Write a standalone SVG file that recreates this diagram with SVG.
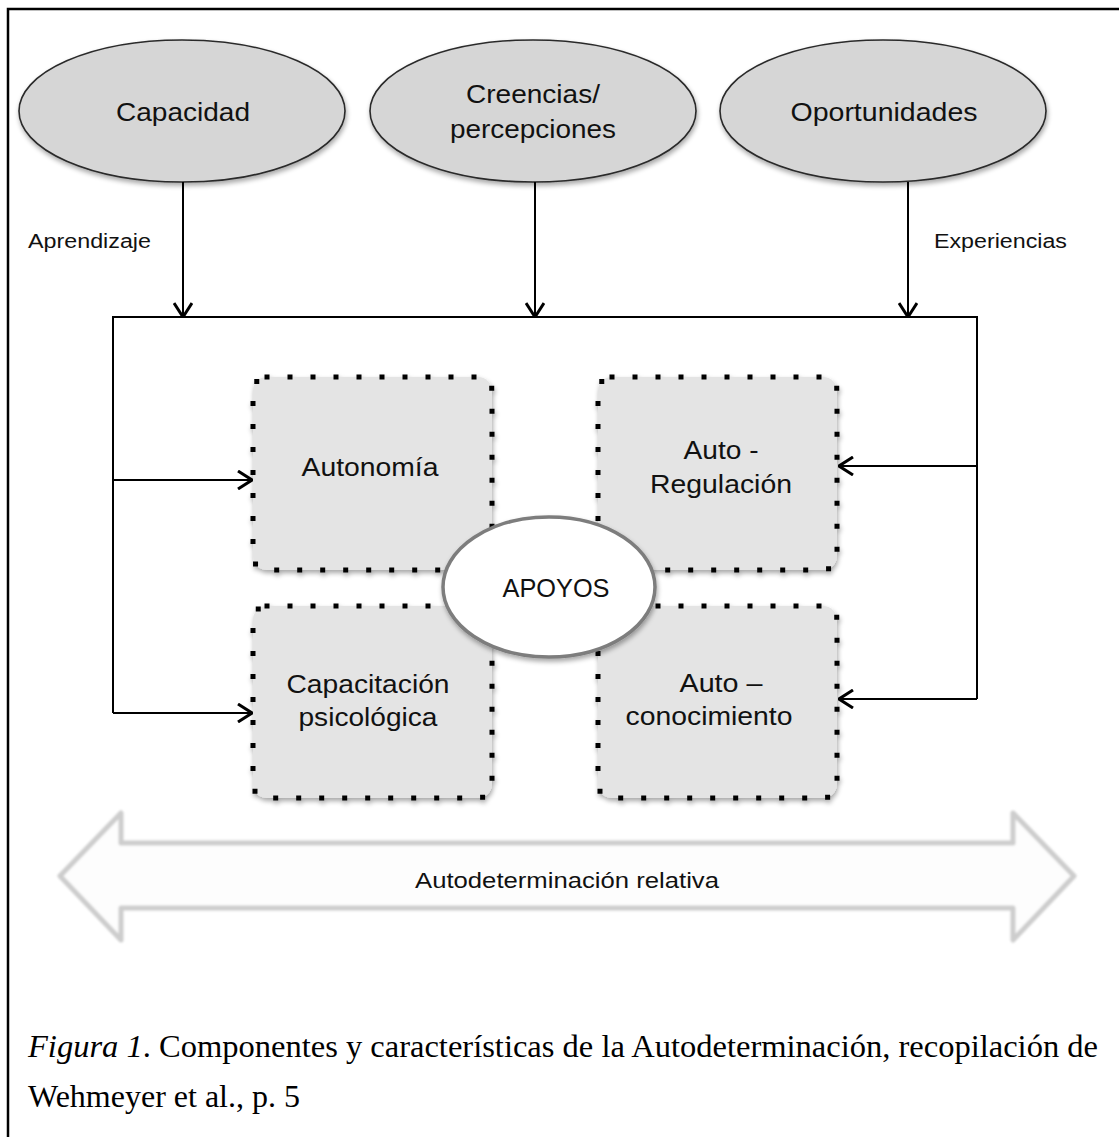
<svg xmlns="http://www.w3.org/2000/svg" width="1119" height="1137" viewBox="0 0 1119 1137">
  <defs>
    <style>
      .lbl { font-family: "Liberation Sans", Arial, Helvetica, sans-serif; fill: #111; text-anchor: middle; }
      .big { font-size: 26px; }
      .small { font-size: 20px; text-anchor: start; }
      .oval { fill: #d6d6d6; stroke: #2a2a2a; stroke-width: 1.6; }
      .box { fill: #e4e4e4; stroke: #000; stroke-width: 5; stroke-dasharray: 0 23; stroke-linecap: square; }
      .conn { fill: none; stroke: #000; stroke-width: 2; }
      .cap { font-family: "Liberation Serif", "Times New Roman", serif; font-size: 32px; fill: #000; }
    </style>
    <filter id="shadow" x="-10%" y="-10%" width="125%" height="130%">
      <feGaussianBlur in="SourceAlpha" stdDeviation="2.5"/>
      <feOffset dx="1" dy="3" result="b"/>
      <feComponentTransfer><feFuncA type="linear" slope="0.35"/></feComponentTransfer>
      <feMerge><feMergeNode/><feMergeNode in="SourceGraphic"/></feMerge>
    </filter>
    <filter id="soft" x="-5%" y="-20%" width="110%" height="140%">
      <feGaussianBlur stdDeviation="1.2"/>
    </filter>
    <marker id="arr" viewBox="0 0 16 20" refX="15" refY="10" markerWidth="16" markerHeight="20" markerUnits="userSpaceOnUse" orient="auto">
      <path d="M1,1 L15,10 L1,19" fill="none" stroke="#000" stroke-width="3"/>
    </marker>
  </defs>

  <rect width="1119" height="1137" fill="#ffffff"/>

  <!-- page frame -->
  <path d="M8,1137 V9 H1119" fill="none" stroke="#000" stroke-width="2.5"/>

  <!-- top ellipses -->
  <g id="capacidad">
    <ellipse class="oval" cx="182" cy="111" rx="163" ry="71" filter="url(#shadow)"/>
    <text class="lbl big" x="183" y="121" textLength="134" lengthAdjust="spacingAndGlyphs">Capacidad</text>
  </g>
  <g id="creencias">
    <ellipse class="oval" cx="533" cy="111" rx="163" ry="71" filter="url(#shadow)"/>
    <text class="lbl big" x="533" y="103" textLength="134" lengthAdjust="spacingAndGlyphs">Creencias/</text>
    <text class="lbl big" x="533" y="138" textLength="166" lengthAdjust="spacingAndGlyphs">percepciones</text>
  </g>
  <g id="oportunidades">
    <ellipse class="oval" cx="883" cy="111" rx="163" ry="71" filter="url(#shadow)"/>
    <text class="lbl big" x="884" y="121" textLength="187" lengthAdjust="spacingAndGlyphs">Oportunidades</text>
  </g>

  <!-- inner boxes -->
  <g id="autonomia">
    <rect class="box" x="253" y="377" width="239" height="193" rx="14" filter="url(#shadow)"/>
    <text class="lbl big" x="370" y="476" textLength="137" lengthAdjust="spacingAndGlyphs">Autonomía</text>
  </g>
  <g id="autoregulacion">
    <rect class="box" x="598" y="377" width="239" height="193" rx="14" filter="url(#shadow)"/>
    <text class="lbl big" x="721" y="459" textLength="75" lengthAdjust="spacingAndGlyphs">Auto -</text>
    <text class="lbl big" x="721" y="493" textLength="142" lengthAdjust="spacingAndGlyphs">Regulación</text>
  </g>
  <g id="capacitacion">
    <rect class="box" x="253" y="606" width="239" height="192" rx="14" filter="url(#shadow)"/>
    <text class="lbl big" x="368" y="693" textLength="163" lengthAdjust="spacingAndGlyphs">Capacitación</text>
    <text class="lbl big" x="368" y="726" textLength="139" lengthAdjust="spacingAndGlyphs">psicológica</text>
  </g>
  <g id="autoconocimiento">
    <rect class="box" x="598" y="606" width="239" height="192" rx="14" filter="url(#shadow)"/>
    <text class="lbl big" x="721" y="692" textLength="83" lengthAdjust="spacingAndGlyphs">Auto –</text>
    <text class="lbl big" x="709" y="725" textLength="167" lengthAdjust="spacingAndGlyphs">conocimiento</text>
  </g>

  <!-- centre ellipse -->
  <g id="apoyos">
    <ellipse cx="549" cy="587" rx="106" ry="70" fill="#ffffff" stroke="#7d7d7d" stroke-width="3.5" filter="url(#shadow)"/>
    <text class="lbl big" x="556" y="597" textLength="107" lengthAdjust="spacingAndGlyphs">APOYOS</text>
  </g>

  <!-- connectors -->
  <g id="connectors">
    <path class="conn" d="M183,182 V317" marker-end="url(#arr)"/>
    <path class="conn" d="M535,182 V317" marker-end="url(#arr)"/>
    <path class="conn" d="M908,182 V317" marker-end="url(#arr)"/>
    <path class="conn" d="M113,713 V317 H977 V699"/>
    <path class="conn" d="M113,480 H252" marker-end="url(#arr)"/>
    <path class="conn" d="M113,713 H252" marker-end="url(#arr)"/>
    <path class="conn" d="M977,466 H839" marker-end="url(#arr)"/>
    <path class="conn" d="M977,699 H839" marker-end="url(#arr)"/>
    <text class="lbl small" x="28" y="248" textLength="123" lengthAdjust="spacingAndGlyphs">Aprendizaje</text>
    <text class="lbl small" x="934" y="248" textLength="133" lengthAdjust="spacingAndGlyphs">Experiencias</text>
  </g>

  <!-- relative self-determination double arrow -->
  <g id="autodeterminacion">
    <path d="M60,876 L121,813 L121,843 L1013,843 L1013,813 L1074,876 L1013,940 L1013,908 L121,908 L121,940 Z" fill="#fdfdfd" stroke="#cdcdcd" stroke-width="5" stroke-linejoin="round" filter="url(#soft)"/>
    <text class="lbl" x="567" y="888" font-size="22" textLength="304" lengthAdjust="spacingAndGlyphs">Autodeterminación relativa</text>
  </g>

  <!-- caption -->
  <text class="cap" x="28" y="1057" textLength="1070" lengthAdjust="spacingAndGlyphs"><tspan font-style="italic">Figura 1</tspan>. Componentes y características de la Autodeterminación, recopilación de</text>
  <text class="cap" x="28" y="1107">Wehmeyer et al., p. 5</text>
</svg>
